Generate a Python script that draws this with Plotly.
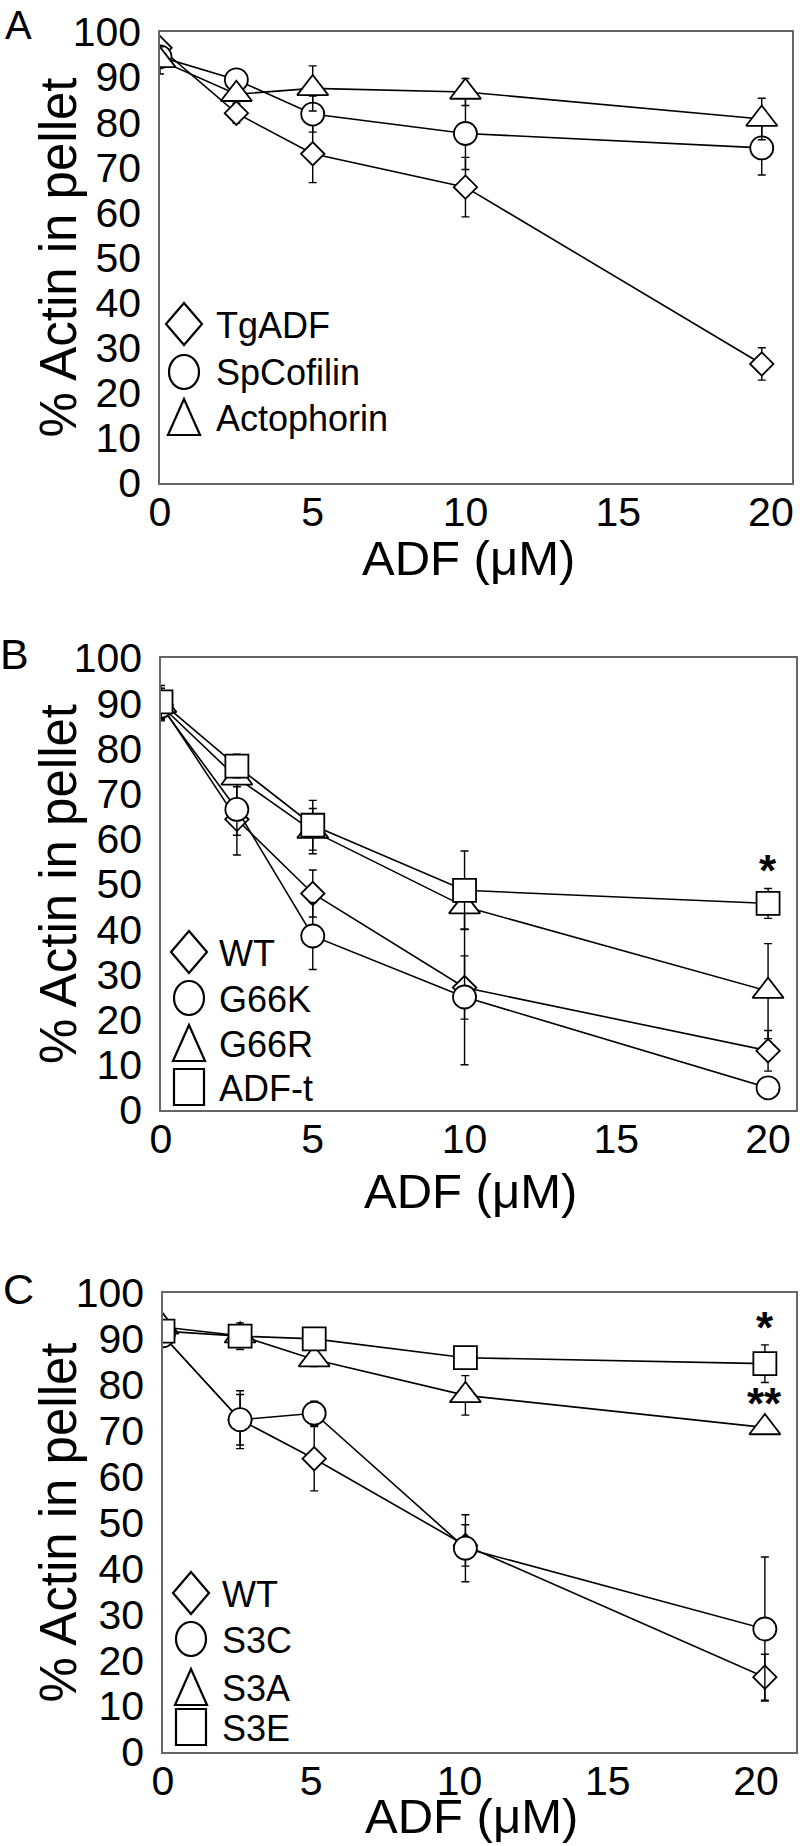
import plotly.graph_objects as go

W, H = 800, 1846

# ---------------- data ----------------
# Panel A
a_x = [0, 2.5, 5, 10, 19.7]
a_tgadf = [96.5, 82, 73, 65.6, 26.4]
a_tgadf_err = [1.5, 2.2, 6.4, 6.6, 3.6]
a_spcof = [94.5, 89.4, 81.8, 77.5, 74.3]
a_spcof_err = [1.5, 1.2, 4, 8, 6]
a_acto = [93.7, 86.2, 87.5, 86.7, 80.7]
a_acto_err = [3, 1.5, 5, 3, 4.6]
a_names = ["TgADF", "SpCofilin", "Actophorin"]

# Panel B
b_x = [0, 2.5, 5, 10, 20]
b_wt = [89.7, 64.3, 47.9, 27.1, 13.1]
b_wt_err = [3.6, 7.9, 5.2, 7, 4.5]
b_g66k = [89.3, 66.5, 38.5, 25, 4.9]
b_g66k_err = [3, 5.7, 7.4, 15, 0.5]
b_g66r = [89.5, 73.5, 61.7, 45, 26.3]
b_g66r_err = [3, 2, 5, 5, 10.5]
b_adft = [90.3, 76.1, 63, 48.6, 45.7]
b_adft_err = [3.6, 2.6, 5.5, 8.7, 3.3]
b_names = ["WT", "G66K", "G66R", "ADF-t"]
b_star_x = [20]
b_star_y = [53]
b_star_t = ["*"]

# Panel C
c_x = [0, 2.6, 5.1, 10.2, 20.3]
c_wt = [90.7, 72.4, 63.9, 45, 16.3]
c_wt_err = [2, 6.3, 7, 4.5, 5]
c_s3c = [90.7, 72.4, 73.8, 44.4, 26.8]
c_s3c_err = [2, 5.5, 2.6, 7.3, 15.7]
c_s3a = [92.6, 90.7, 85.5, 77.7, 70.7]
c_s3a_err = [1.5, 1, 1.5, 4.3, 1]
c_s3e = [91.7, 90.6, 90, 85.9, 84.6]
c_s3e_err = [2, 2.9, 2.4, 1, 4.1]
c_names = ["WT", "S3C", "S3A", "S3E"]
c_star_x = [20.3, 20.3]
c_star_y = [92.4, 75.9]
c_star_t = ["*", "**"]

x_ticks = [0, 5, 10, 15, 20]
y_ticks = list(range(0, 101, 10))

# ---------------- layout geometry (page pixels) ----------------
panels = {
    "A": dict(l=160, r=792, t=32, b=483, xmax=20.69),
    "B": dict(l=161, r=796, t=658, b=1110, xmax=20.92),
    "C": dict(l=163, r=796, t=1293, b=1752, xmax=21.35),
}

FONT = "Liberation Sans, Arial, Helvetica, sans-serif"

def px(xp):
    return xp / W

def py(yp):
    return 1 - yp / H

fig = go.Figure()

SYM = {"diamond": ("diamond", 18), "circle": ("circle", 23),
       "triangle": ("triangle-up", 27), "square": ("square", 23)}

def add_series(xv, yv, ev, sym, axn):
    s, size = SYM[sym]
    fig.add_trace(go.Scatter(
        x=xv, y=yv, mode="lines+markers",
        xaxis="x" + axn, yaxis="y" + axn,
        line=dict(color="black", width=1.6),
        marker=dict(symbol=s, size=size, color="white",
                    line=dict(color="black", width=1.8)),
        error_y=dict(type="data", array=ev, visible=True,
                     color="black", thickness=1.4, width=4),
        showlegend=False, hoverinfo="skip"))

# Panel A traces (axes 1)
add_series(a_x, a_tgadf, a_tgadf_err, "diamond", "")
add_series(a_x, a_spcof, a_spcof_err, "circle", "")
add_series(a_x, a_acto, a_acto_err, "triangle", "")
# Panel B traces (axes 2)
add_series(b_x, b_wt, b_wt_err, "diamond", "2")
add_series(b_x, b_g66k, b_g66k_err, "circle", "2")
add_series(b_x, b_g66r, b_g66r_err, "triangle", "2")
add_series(b_x, b_adft, b_adft_err, "square", "2")
# Panel C traces (axes 3)
add_series(c_x, c_wt, c_wt_err, "diamond", "3")
add_series(c_x, c_s3c, c_s3c_err, "circle", "3")
add_series(c_x, c_s3a, c_s3a_err, "triangle", "3")
add_series(c_x, c_s3e, c_s3e_err, "square", "3")

layout = dict(
    width=W, height=H, autosize=False,
    margin=dict(l=0, r=0, t=0, b=0, pad=0),
    paper_bgcolor="white", plot_bgcolor="white",
    font=dict(family=FONT, color="black"),
    showlegend=False,
)

axis_common_x = dict(
    tickvals=x_ticks, ticktext=[str(v) for v in x_ticks],
    showgrid=False, zeroline=False, showline=True, mirror=True,
    linecolor="#666666", linewidth=1.5, ticks="", automargin=False,
    tickfont=dict(size=41, family=FONT, color="black"),
    ticklabelstandoff=-8,
)
axis_common_y = dict(
    tickvals=y_ticks, ticktext=[str(v) for v in y_ticks], range=[0, 100],
    showgrid=False, zeroline=False, showline=True, mirror=True,
    linecolor="#666666", linewidth=1.5, ticks="", automargin=False,
    tickfont=dict(size=41, family=FONT, color="black"),
    ticklabelstandoff=9,
)

for i, key in enumerate(["A", "B", "C"]):
    p = panels[key]
    sfx = "" if i == 0 else str(i + 1)
    xa = dict(axis_common_x, domain=[px(p["l"]), px(p["r"])], range=[0, p["xmax"]],
              anchor="y" + sfx)
    ya = dict(axis_common_y, domain=[py(p["b"]), py(p["t"])], anchor="x" + sfx)
    layout["xaxis" + sfx] = xa
    layout["yaxis" + sfx] = ya

fig.update_layout(**layout)

annotations = []
shapes = []

def text(x, y, s, size, xanchor="center", yanchor="middle", angle=0, bold=False):
    annotations.append(dict(x=px(x), y=py(y), xref="paper", yref="paper",
                            text=("<b>%s</b>" % s) if bold else s,
                            showarrow=False, xanchor=xanchor, yanchor=yanchor,
                            textangle=angle,
                            font=dict(size=size, family=FONT, color="black")))

# panel letters
text(18, 25, "A", 40)
text(14, 654, "B", 43)
text(18, 1289, "C", 43)

# axis titles
for key in ["A", "B", "C"]:
    p = panels[key]
    cy = (p["t"] + p["b"]) / 2
    text(58, cy, "% Actin in pellet", 51, angle=-90)
xt = {"A": 558, "B": 1191, "C": 1816}
for key in ["A", "B", "C"]:
    p = panels[key]
    text((p["l"] + p["r"]) / 2 - 8, xt[key], "ADF (\u03bcM)", 49)

# legend keys
def key_shape(kind, cx, cy):
    common = dict(xref="paper", yref="paper", xsizemode="pixel", ysizemode="pixel",
                  xanchor=px(cx), yanchor=py(cy),
                  line=dict(color="black", width=2.2), fillcolor="white")
    if kind == "diamond":
        shapes.append(dict(type="path", path="M 0 21 L 18 0 L 0 -21 L -18 0 Z", **common))
    elif kind == "circle":
        shapes.append(dict(type="circle", x0=-15, x1=15, y0=-17, y1=17, **common))
    elif kind == "triangle":
        shapes.append(dict(type="path", path="M 0 18 L 16 -18 L -16 -18 Z", **common))
    elif kind == "square":
        shapes.append(dict(type="rect", x0=-15, x1=15, y0=-18, y1=18, **common))

leg = {
    "A": (184, 214, [324, 372, 417], ["diamond", "circle", "triangle"], a_names),
    "B": (189, 217, [952, 998, 1043, 1087], ["diamond", "circle", "triangle", "square"], b_names),
    "C": (191, 220, [1593, 1639, 1687, 1727], ["diamond", "circle", "triangle", "square"], c_names),
}
for key, (kx, tx, ys, kinds, names) in leg.items():
    for yy, kd, nm in zip(ys, kinds, names):
        key_shape(kd, kx, yy)
        text(tx, yy + 1, nm, 36, xanchor="left")

# significance asterisks (data coordinates)
for xs, ys, ts, sfx in [(b_star_x, b_star_y, b_star_t, "2"), (c_star_x, c_star_y, c_star_t, "3")]:
    for xv, yv, tv in zip(xs, ys, ts):
        annotations.append(dict(x=xv, y=yv, xref="x" + sfx, yref="y" + sfx,
                                text="<b>%s</b>" % tv,
                                showarrow=False, xanchor="center", yanchor="middle",
                                font=dict(size=44, family=FONT, color="black")))

fig.update_layout(annotations=annotations, shapes=shapes)

fig.write_html("out.html", config={"displayModeBar": False},
               post_script="document.body.style.margin='0';document.body.style.overflow='hidden';")
